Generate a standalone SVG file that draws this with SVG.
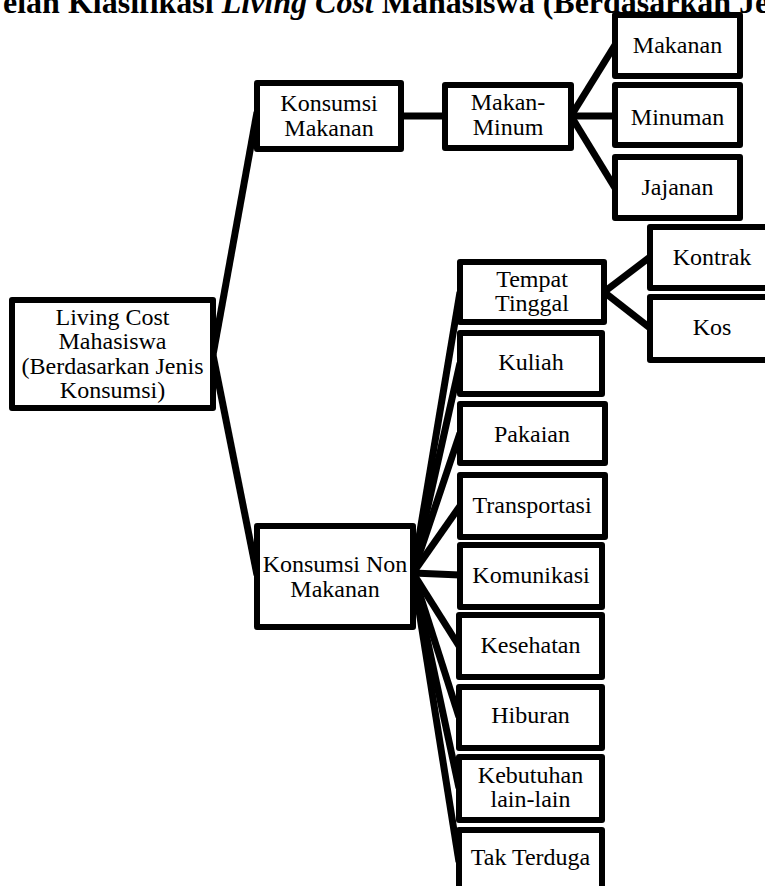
<svg xmlns="http://www.w3.org/2000/svg" width="765" height="886" viewBox="0 0 765 886">
<style>
.box{fill:#fff;stroke:#000;stroke-width:6;stroke-linejoin:round}
.t{font-family:"Liberation Serif","Times New Roman",serif;font-size:24px;fill:#000;text-anchor:middle}
.title{font-family:"Liberation Serif","Times New Roman",serif;font-size:32px;font-weight:bold;fill:#000}
#connectors line{stroke:#000;stroke-width:7;stroke-linecap:butt}
</style>
<rect width="765" height="886" fill="#fff"/>
<text class="title" x="3" y="13">elan Klasifikasi <tspan font-style="italic">Living Cost</tspan> Mahasiswa (Berdasarkan Je</text>
<g id="connectors">
<line x1="213" y1="355" x2="257" y2="112"/>
<line x1="213" y1="355" x2="257" y2="575"/>
<line x1="401" y1="116" x2="445" y2="116"/>
<line x1="571" y1="116" x2="615" y2="45"/>
<line x1="571" y1="116" x2="615" y2="116"/>
<line x1="571" y1="116" x2="615" y2="188"/>
<line x1="604" y1="292" x2="650" y2="257"/>
<line x1="604" y1="292" x2="650" y2="328"/>
<line x1="413" y1="573" x2="460" y2="292"/>
<line x1="413" y1="573" x2="460" y2="363"/>
<line x1="413" y1="573" x2="460" y2="433"/>
<line x1="413" y1="573" x2="460" y2="506"/>
<line x1="413" y1="573" x2="460" y2="575"/>
<line x1="413" y1="573" x2="459" y2="646"/>
<line x1="413" y1="573" x2="459" y2="717"/>
<line x1="413" y1="573" x2="459" y2="788"/>
<line x1="413" y1="573" x2="459" y2="862"/>
</g>
<g id="root"><rect class="box" x="12" y="300" width="201" height="108"/><text class="t" x="112.5" y="325">Living Cost</text><text class="t" x="112.5" y="349">Mahasiswa</text><text class="t" x="112.5" y="374">(Berdasarkan Jenis</text><text class="t" x="112.5" y="398">Konsumsi)</text></g>
<g id="konsumsi-makanan"><rect class="box" x="257" y="83" width="144" height="66"/><text class="t" x="329" y="111">Konsumsi</text><text class="t" x="329" y="136">Makanan</text></g>
<g id="makan-minum"><rect class="box" x="445" y="85" width="126" height="63"/><text class="t" x="508" y="110">Makan-</text><text class="t" x="508" y="135">Minum</text></g>
<g id="makanan"><rect class="box" x="615" y="15" width="125" height="61"/><text class="t" x="677.5" y="53">Makanan</text></g>
<g id="minuman"><rect class="box" x="615" y="85" width="125" height="60"/><text class="t" x="677.5" y="125">Minuman</text></g>
<g id="jajanan"><rect class="box" x="615" y="157" width="125" height="61"/><text class="t" x="677.5" y="195">Jajanan</text></g>
<g id="kontrak"><rect class="box" x="650" y="227" width="140" height="61"/><text class="t" x="712" y="265">Kontrak</text></g>
<g id="kos"><rect class="box" x="650" y="297" width="140" height="63"/><text class="t" x="712" y="335">Kos</text></g>
<g id="konsumsi-non-makanan"><rect class="box" x="257" y="526" width="156" height="101"/><text class="t" x="335" y="572">Konsumsi Non</text><text class="t" x="335" y="597">Makanan</text></g>
<g id="tempat-tinggal"><rect class="box" x="460" y="262" width="144" height="60"/><text class="t" x="532" y="287">Tempat</text><text class="t" x="532" y="311">Tinggal</text></g>
<g id="kuliah"><rect class="box" x="460" y="333" width="142" height="61"/><text class="t" x="531" y="370">Kuliah</text></g>
<g id="pakaian"><rect class="box" x="460" y="404" width="145" height="59"/><text class="t" x="532" y="442">Pakaian</text></g>
<g id="transportasi"><rect class="box" x="460" y="475" width="145" height="62"/><text class="t" x="532" y="513">Transportasi</text></g>
<g id="komunikasi"><rect class="box" x="460" y="545" width="142" height="62"/><text class="t" x="531" y="583">Komunikasi</text></g>
<g id="kesehatan"><rect class="box" x="459" y="615" width="143" height="62"/><text class="t" x="530.5" y="653">Kesehatan</text></g>
<g id="hiburan"><rect class="box" x="459" y="687" width="143" height="61"/><text class="t" x="530.5" y="723">Hiburan</text></g>
<g id="kebutuhan"><rect class="box" x="459" y="757" width="143" height="63"/><text class="t" x="530.5" y="783">Kebutuhan</text><text class="t" x="530.5" y="807">lain-lain</text></g>
<g id="tak-terduga"><rect class="box" x="459" y="830" width="143" height="70"/><text class="t" x="530.5" y="865">Tak Terduga</text></g>
</svg>
